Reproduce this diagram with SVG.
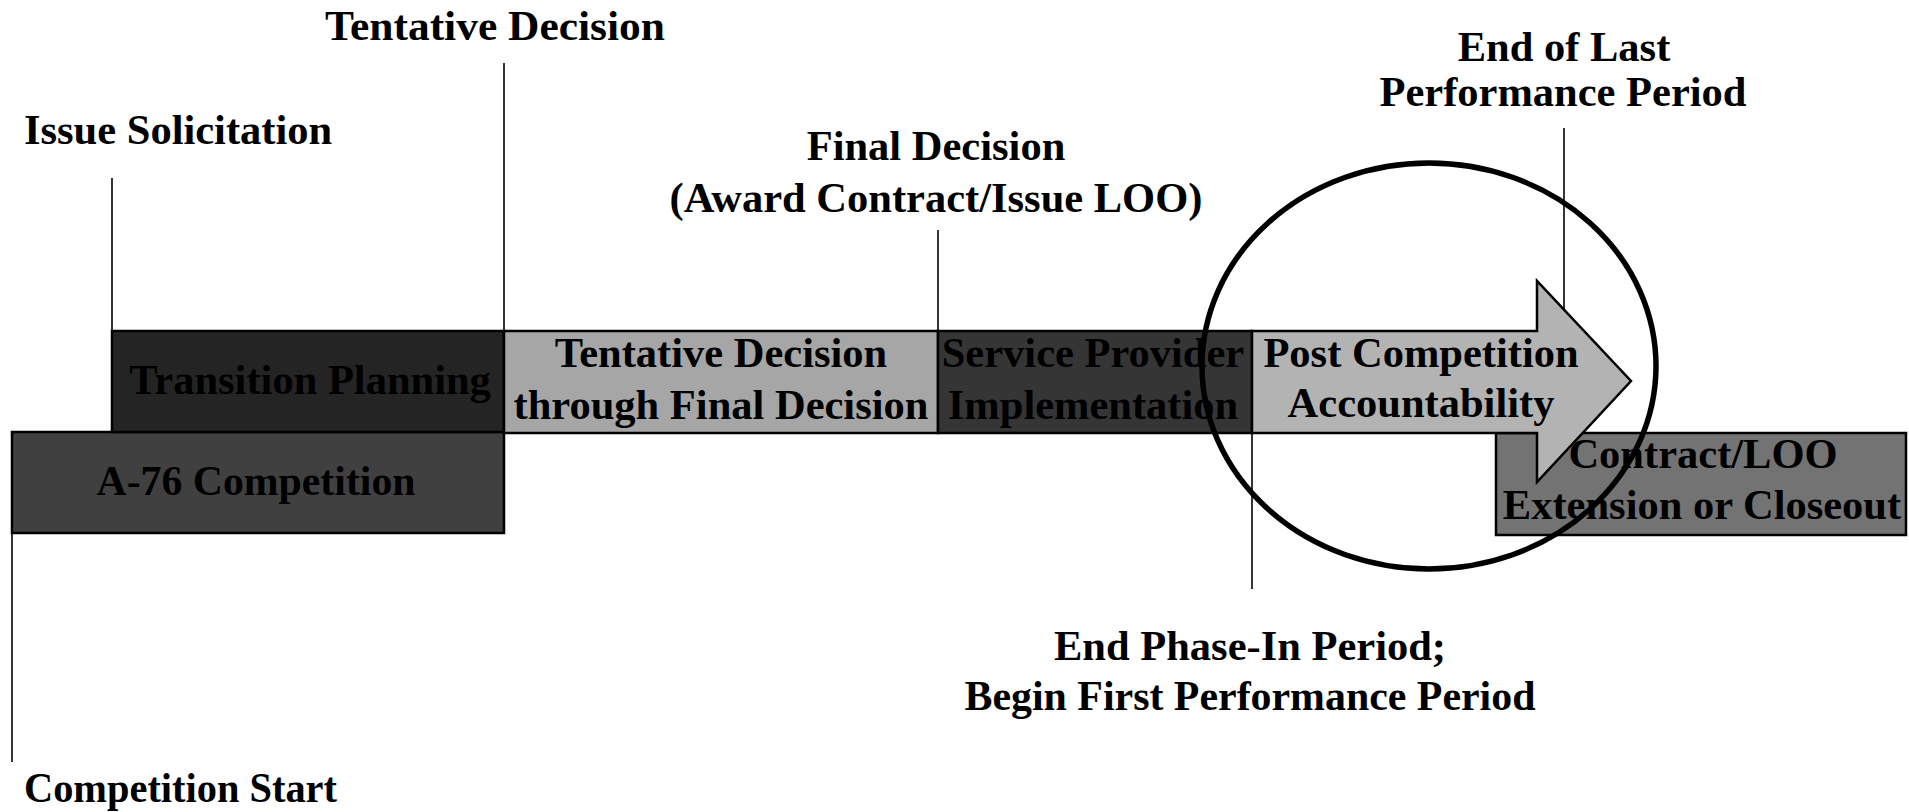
<svg xmlns="http://www.w3.org/2000/svg" width="1909" height="812" viewBox="0 0 1909 812">
<style>
text{font-family:"Liberation Serif","Times New Roman",serif;font-weight:bold;font-size:42.5px;fill:#000;text-anchor:middle}
.l{text-anchor:start}
.box{stroke:#000;stroke-width:2.5}
.tick{stroke:#000;stroke-width:1.6;fill:none}
</style>
<rect width="1909" height="812" fill="#fff"/>
<g id="connectors">
<line class="tick" x1="12" y1="532" x2="12" y2="762"/>
<line class="tick" x1="112" y1="178" x2="112" y2="331"/>
<line class="tick" x1="504" y1="63" x2="504" y2="331"/>
<line class="tick" x1="938" y1="230" x2="938" y2="331"/>
<line class="tick" x1="1564" y1="128" x2="1564" y2="340"/>
<line class="tick" x1="1252" y1="433" x2="1252" y2="589"/>
</g>
<g id="a76">
<rect class="box" x="12" y="432" width="492" height="101" fill="#404040"/>
<text x="256" y="495" textLength="319" lengthAdjust="spacingAndGlyphs">A-76 Competition</text>
</g>
<g id="transition">
<rect class="box" x="112" y="331" width="392" height="101" fill="#242424"/>
<text x="310" y="394">Transition Planning</text>
</g>
<g id="tentative">
<rect class="box" x="504" y="331" width="434" height="102" fill="#a6a6a6"/>
<text x="721" y="367">Tentative Decision</text>
<text x="721" y="419">through Final Decision</text>
</g>
<g id="service">
<rect class="box" x="938" y="331" width="314" height="102" fill="#353535"/>
<text x="1093" y="367">Service Provider</text>
<text x="1093" y="419">Implementation</text>
</g>
<g id="contract">
<rect class="box" x="1496" y="433" width="410" height="102" fill="#737373"/>
</g>
<g id="post">
<path class="box" d="M1252,331 L1537,331 L1537,281 L1631,381 L1537,482 L1537,433 L1252,433 Z" fill="#b3b3b3" stroke-linejoin="miter"/>
<text x="1421" y="367">Post Competition</text>
<text x="1421" y="417">Accountability</text>
</g>
<g id="contract-label">
<text x="1703" y="468">Contract/LOO</text>
<text x="1702" y="519">Extension or Closeout</text>
</g>
<g id="milestones">
<text x="495" y="40" textLength="340" lengthAdjust="spacingAndGlyphs">Tentative Decision</text>
<text class="l" x="24" y="144">Issue Solicitation</text>
<text x="936" y="160">Final Decision</text>
<text x="936" y="212">(Award Contract/Issue LOO)</text>
<text x="1564" y="61">End of Last</text>
<text x="1563" y="106">Performance Period</text>
<text x="1250" y="660">End Phase-In Period;</text>
<text x="1250" y="710" textLength="571" lengthAdjust="spacingAndGlyphs">Begin First Performance Period</text>
<text class="l" x="24" y="802" textLength="313" lengthAdjust="spacingAndGlyphs">Competition Start</text>
</g>
<g id="highlight">
<ellipse cx="1429" cy="366" rx="227" ry="203" fill="none" stroke="#000" stroke-width="5.5"/>
</g>
</svg>
